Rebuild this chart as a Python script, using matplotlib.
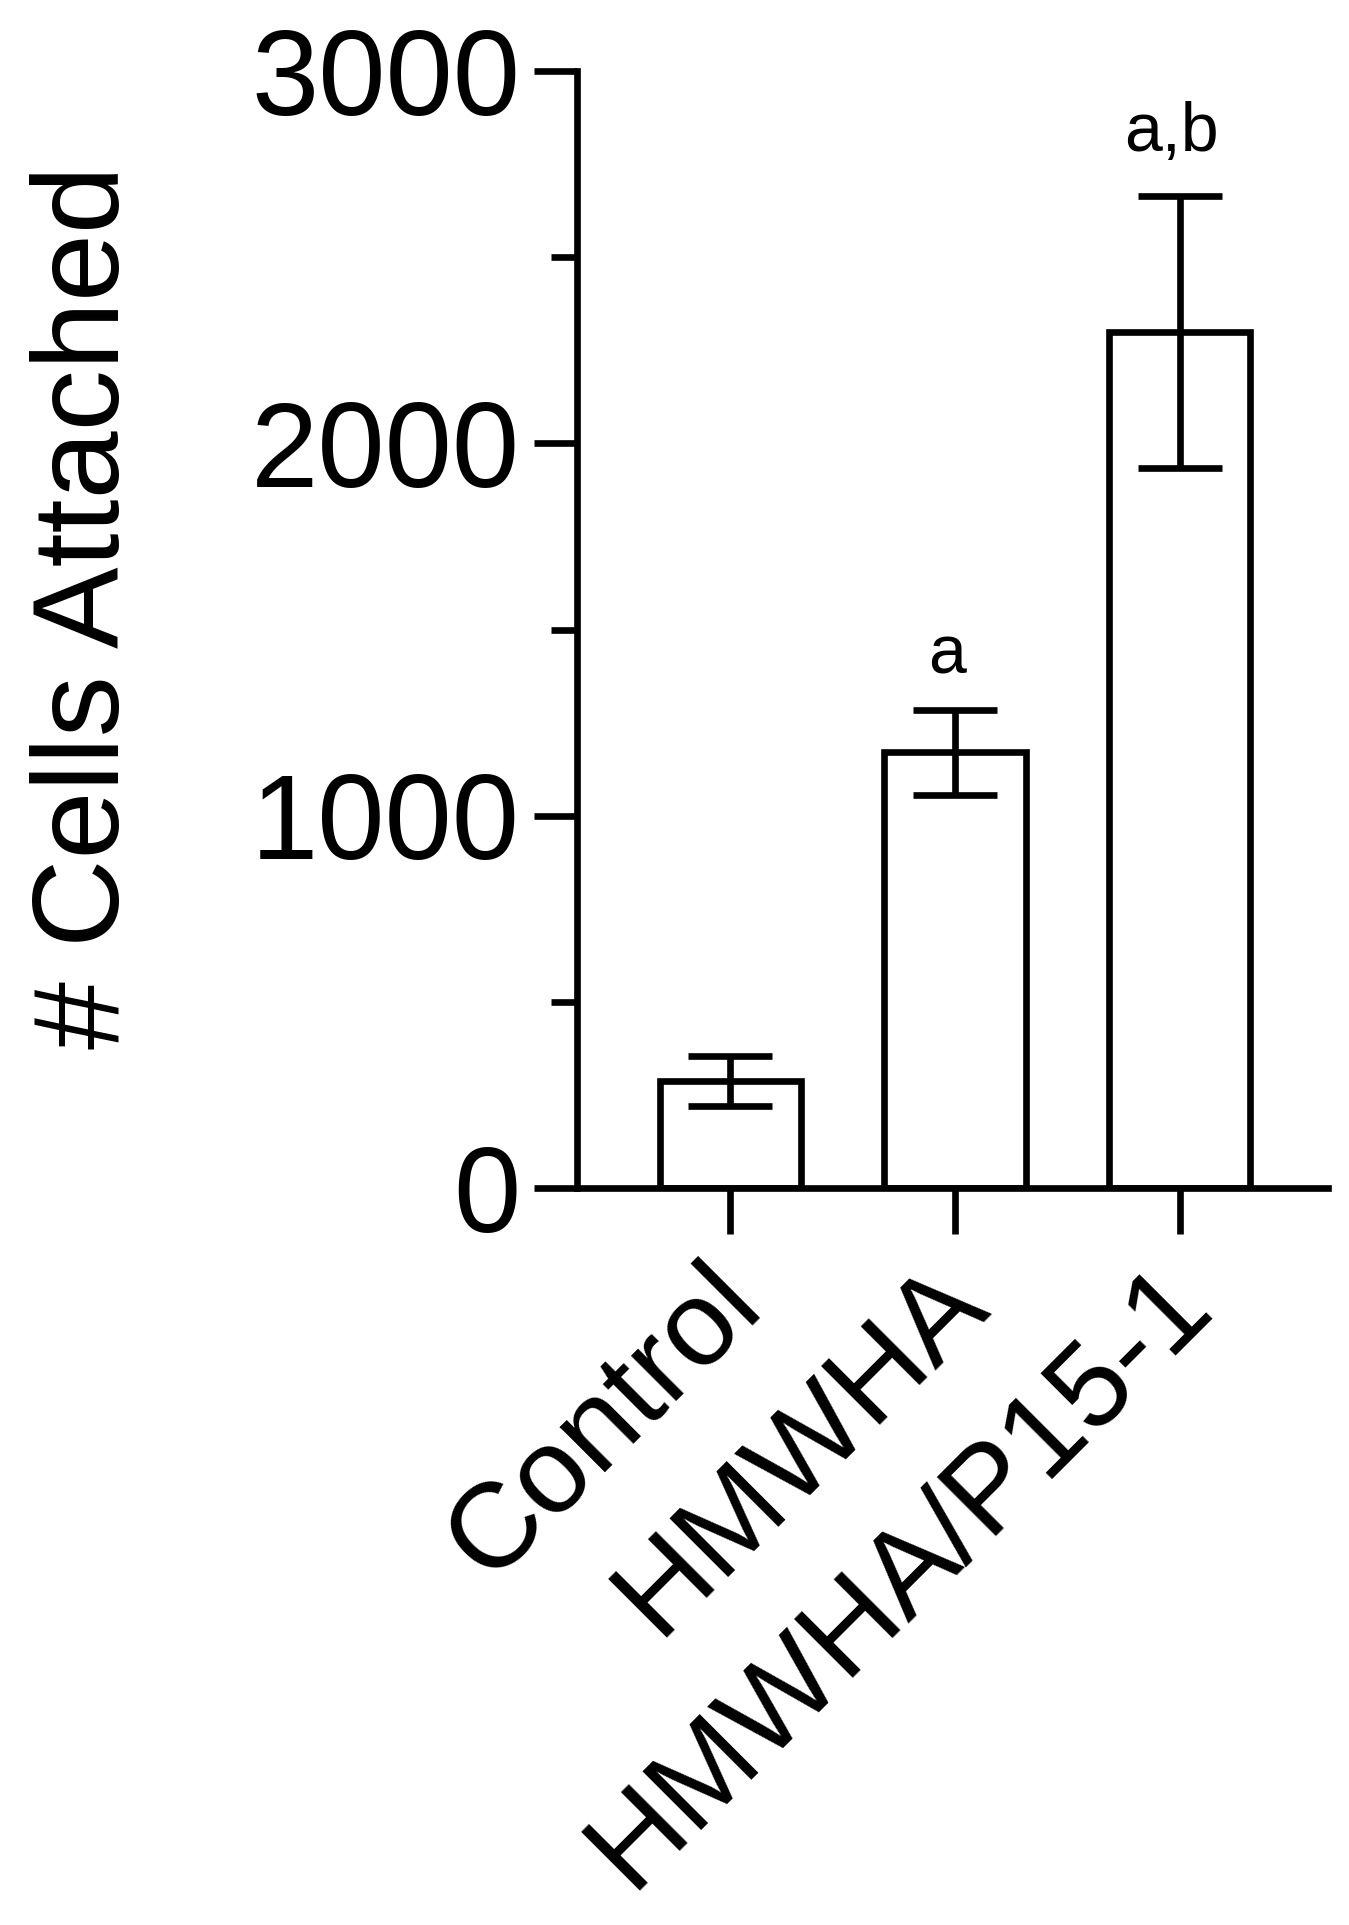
import numpy as np
import matplotlib
matplotlib.use('Agg')
import matplotlib.pyplot as plt
from matplotlib.ticker import MultipleLocator
from matplotlib.transforms import ScaledTranslation

plt.rcParams['font.family'] = ['Liberation Sans', 'DejaVu Sans']

groups = ['Control', 'HMWHA', 'HMWHA/P15-1']
cells = [288, 1170, 2300]
err = [68, 115, 365]
letters = ['', 'a', 'a,b']
letter_gap = [0, 26, 32]  # points above the error cap

fig = plt.figure(figsize=(13.49, 19.25), dpi=100)
ax = fig.add_axes([0.4277, 0.3828, 0.9844 - 0.4277, 0.9631 - 0.3828])

x = np.arange(len(groups))
lw = 4.8
ax.bar(x, cells, width=0.63, color='white', edgecolor='black', linewidth=lw, zorder=2)
ax.errorbar(x, cells, yerr=err, fmt='none', ecolor='black', elinewidth=lw,
            capsize=30, capthick=lw, zorder=3)

# significance letters above error bars
for i in range(len(groups)):
    if letters[i]:
        ax.annotate(letters[i], (x[i], cells[i] + err[i]), xytext=(-6, letter_gap[i]),
                    textcoords='offset points', ha='center', va='baseline',
                    fontsize=49)

ax.set_xlim(-0.683, 2.66)
ax.set_ylim(0, 3000)
ax.yaxis.set_major_locator(MultipleLocator(1000))
ax.yaxis.set_minor_locator(MultipleLocator(500))

for s in ['top', 'right']:
    ax.spines[s].set_visible(False)
for s in ['left', 'bottom']:
    ax.spines[s].set_linewidth(lw)

ax.tick_params(axis='y', which='major', length=31, width=lw, labelsize=87, pad=10)
ax.tick_params(axis='y', which='minor', length=18.5, width=lw)
ax.tick_params(axis='x', which='major', length=33, width=lw, labelsize=87, pad=8)

ax.set_xticks(x)
ax.set_xticklabels(groups, rotation=45, ha='right', rotation_mode='anchor')
shift = ScaledTranslation(-0.27, 0.0, fig.dpi_scale_trans)
for lab in ax.get_xticklabels():
    lab.set_transform(lab.get_transform() + shift)

ax.set_ylabel('# Cells Attached', fontsize=88)
ax.yaxis.set_label_coords(-0.577, 0.52)

fig.savefig('out.png', dpi=100, facecolor='white')
